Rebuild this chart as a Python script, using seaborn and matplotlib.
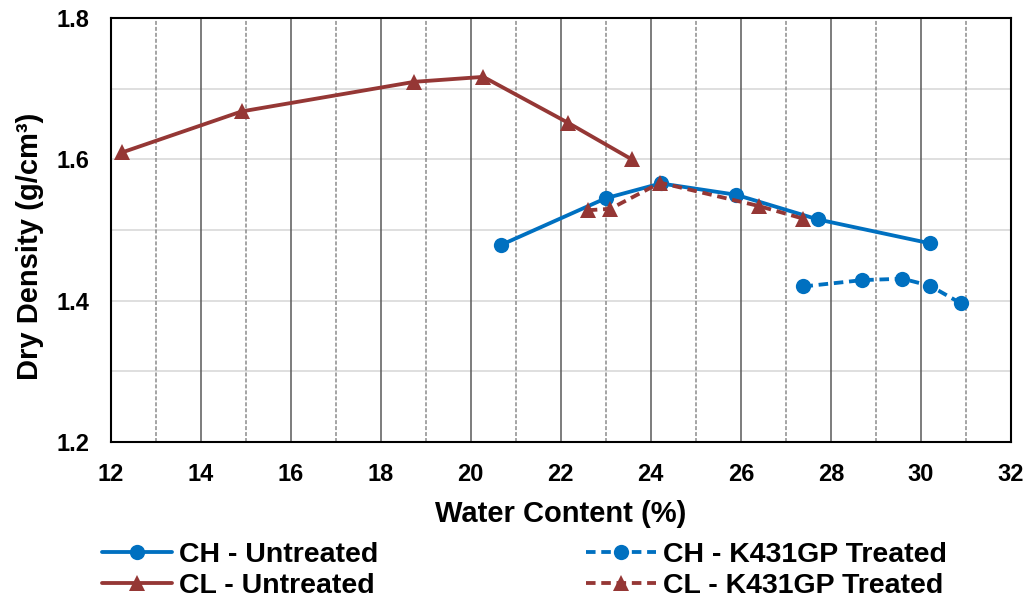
import matplotlib
matplotlib.use("Agg")
import matplotlib.pyplot as plt
from matplotlib.lines import Line2D
from matplotlib.ticker import MultipleLocator, FormatStrFormatter
import numpy as np
import pandas as pd
import seaborn as sns

# ---------------- data ----------------
series_names = ["CH - Untreated", "CH - K431GP Treated", "CL - Untreated", "CL - K431GP Treated"]
legend_order = ["CH - Untreated", "CL - Untreated", "CH - K431GP Treated", "CL - K431GP Treated"]

ch_untreated_x = [20.68, 23.00, 24.22, 25.89, 27.71, 30.21]
ch_untreated_y = [1.479, 1.545, 1.566, 1.550, 1.515, 1.481]

ch_treated_x = [27.39, 28.70, 29.59, 30.20, 30.89]
ch_treated_y = [1.420, 1.429, 1.431, 1.421, 1.396]

cl_untreated_x = [12.26, 14.91, 18.75, 20.28, 22.16, 23.58]
cl_untreated_y = [1.610, 1.668, 1.710, 1.717, 1.652, 1.600]

cl_treated_x = [22.60, 23.10, 24.21, 26.40, 27.39]
cl_treated_y = [1.528, 1.530, 1.567, 1.534, 1.516]

x_label = "Water Content (%)"
y_label = "Dry Density (g/cm³)"

# ---------------- styles ----------------
BLUE = "#0070C0"
RED = "#953735"
palette = {series_names[0]: BLUE, series_names[1]: BLUE,
           series_names[2]: RED, series_names[3]: RED}
dash_pat = (2.5, 1.5)
dashes = {series_names[0]: "", series_names[1]: dash_pat,
          series_names[2]: "", series_names[3]: dash_pat}
markers = {series_names[0]: "o", series_names[1]: "o",
           series_names[2]: "^", series_names[3]: "^"}

frames = []
for name, xs, ys in [
    (series_names[0], ch_untreated_x, ch_untreated_y),
    (series_names[1], ch_treated_x, ch_treated_y),
    (series_names[2], cl_untreated_x, cl_untreated_y),
    (series_names[3], cl_treated_x, cl_treated_y),
]:
    frames.append(pd.DataFrame({"x": xs, "y": ys, "series": name}))
df = pd.concat(frames, ignore_index=True)

sns.set_theme(style="white")
plt.rcParams["font.family"] = ["Liberation Sans", "DejaVu Sans"]
plt.rcParams["font.weight"] = "bold"
plt.rcParams["axes.labelweight"] = "bold"
plt.rcParams["text.color"] = "black"
plt.rcParams["axes.labelcolor"] = "black"
plt.rcParams["xtick.labelsize"] = 17
plt.rcParams["ytick.labelsize"] = 17
plt.rcParams["xtick.color"] = "black"
plt.rcParams["ytick.color"] = "black"

fig = plt.figure(figsize=(10.29, 6.04), dpi=100)
ax = fig.add_axes([0.1074, 0.2687, 0.8751, 0.7010])

LW = 2.75
MS = 11
sns.lineplot(data=df, x="x", y="y", hue="series", style="series",
             hue_order=series_names, style_order=series_names,
             palette=palette, dashes=dashes, markers=markers,
             estimator=None, sort=False, legend=False, ax=ax,
             linewidth=LW, markersize=MS, markeredgewidth=0)

# ---------------- axes ----------------
ax.set_xlim(12, 32)
ax.set_ylim(1.2, 1.8)
ax.xaxis.set_major_locator(MultipleLocator(2))
ax.xaxis.set_minor_locator(MultipleLocator(1))
ax.yaxis.set_major_locator(MultipleLocator(0.2))
ax.yaxis.set_minor_locator(MultipleLocator(0.1))
ax.yaxis.set_major_formatter(FormatStrFormatter("%.1f"))
ax.xaxis.set_major_formatter(FormatStrFormatter("%d"))

ax.set_axisbelow(True)
ax.grid(False)
ax.xaxis.grid(True, which="major", color="#595959", linewidth=1.1, linestyle="-")
ax.xaxis.grid(True, which="minor", color="#8C8C8C", linewidth=1.1,
              linestyle=(0, (2.6, 1.3)))
ax.yaxis.grid(True, which="both", color="#D9D9D9", linewidth=1.2, linestyle="-")
ax.yaxis.set_zorder(0.4)

for sp in ax.spines.values():
    sp.set_visible(True)
    sp.set_color("black")
    sp.set_linewidth(1.5)

ax.tick_params(axis="both", which="both", length=0)
ax.tick_params(axis="y", which="major", pad=15, labelsize=17, labelcolor="black")
ax.tick_params(axis="x", which="major", pad=15.5, labelsize=17, labelcolor="black")

ax.set_xlabel(x_label, fontsize=21, fontweight="bold", color="black", labelpad=10)
ax.set_ylabel(y_label, fontsize=21, fontweight="bold", color="black")
ax.yaxis.set_label_coords(-0.0894, 0.461)
ax.yaxis.label.set_va("center")

# ---------------- legend ----------------
handles = []
for name in legend_order:
    ls = "-" if dashes[name] == "" else (0, dashes[name])
    handles.append(Line2D([], [], color=palette[name], linewidth=LW, linestyle=ls,
                          marker=markers[name], markersize=MS, markeredgewidth=0))
leg = fig.legend(handles, legend_order, loc="center left",
                 bbox_to_anchor=(102 / 1029, 1 - 570.5 / 604), ncol=2,
                 frameon=False, borderpad=0, borderaxespad=0,
                 handlelength=2.45, handletextpad=0.25, columnspacing=7.3,
                 labelspacing=0.2, prop={"size": 20.5, "weight": "bold"})
for t in leg.get_texts():
    t.set_color("black")

fig.canvas.draw()
for lbl in ax.get_xticklabels() + ax.get_yticklabels():
    lbl.set_fontweight("bold")
    lbl.set_color("black")

fig.savefig("out.png", dpi=100)
